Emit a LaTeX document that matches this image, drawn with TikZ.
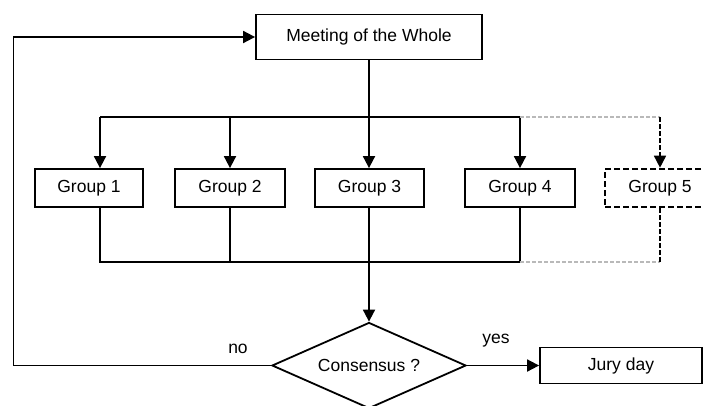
\documentclass[tikz,border=0pt]{standalone}
\usepackage{fontspec}
\setmainfont{Liberation Sans}
\usetikzlibrary{arrows.meta,shapes.geometric}
\begin{document}
\begin{tikzpicture}[x=1pt,y=-1pt,
  every node/.style={font=\fontsize{17.5}{20}\selectfont},
  box/.style={draw,line width=1.8pt,rectangle,minimum height=38pt,minimum width=108pt,inner sep=0pt},
  ln/.style={line width=1.8pt},
  tip/.style={-{Triangle[length=12pt,width=12pt]}},
  arr/.style={ln,tip},
  grayd/.style={line width=1.8pt,draw=gray!55,dash pattern=on 4pt off 2pt},
  blackd/.style={line width=1.5pt,dash pattern=on 5pt off 2pt},
  lbl/.style={inner sep=0pt}]
\useasboundingbox (0,0) rectangle (704,405);
\node[box,minimum width=226pt,minimum height=45pt] (meet) at (369,37) {Meeting of the Whole};
\node[box] (g1) at (89,188) {Group 1};
\node[box,minimum width=110pt] (g2) at (230,188) {Group 2};
\node[box,minimum width=109pt] (g3) at (369.5,188) {Group 3};
\node[box,minimum width=110pt] (g4) at (520,188) {Group 4};
\node[box,minimum width=110pt,line width=2.6pt,dash pattern=on 6pt off 3pt] (g5) at (660,188) {Group 5};
\node[draw,diamond,line width=1.8pt,aspect=2.25,minimum width=194pt,minimum height=86pt,inner sep=0pt] (dia) at (369,365.5) {Consensus ?};
\node[box,minimum width=162pt,minimum height=36pt] (jury) at (621,365.5) {Jury day};
\node[lbl] (no) at (238,349) {no};
\node[lbl] (yes) at (496,341) {yes};
\coordinate (bt1) at (100,117);
\coordinate (bt4) at (520,117);
\coordinate (bt5) at (660,117);
\coordinate (bb1) at (100,262);
\coordinate (bb4) at (520,262);
\coordinate (bb5) at (660,262);
\coordinate (fl) at (13.5,365.5);
% top distribution
\draw[arr] (meet.south) -- (g3.north -| meet.south);
\draw[ln] (bt1) -- (bt4);
\draw[arr] (bt1) -- (bt1 |- g1.north);
\draw[arr] (g2.north |- bt1) -- (g2.north);
\draw[arr] (bt4) -- (g4.north);
\draw[grayd] (bt4) -- (bt5);
\draw[blackd,tip] (bt5) -- (g5.north);
% bottom collection
\draw[ln] (bt1 |- g1.south) -- (bb1) -- (bb4);
\draw[ln] (g2.south) -- (g2.south |- bb1);
\draw[ln] (g4.south) -- (bb4);
\draw[grayd] (bb4) -- (bb5);
\draw[blackd] (g5.south) -- (bb5);
\draw[arr] (g3.south -| meet.south) -- (dia.north);
% decision
\draw[arr] (dia.east) -- (jury.west);
\draw[arr] (dia.west) -- (fl) |- (meet.west);
\end{tikzpicture}
\end{document}
